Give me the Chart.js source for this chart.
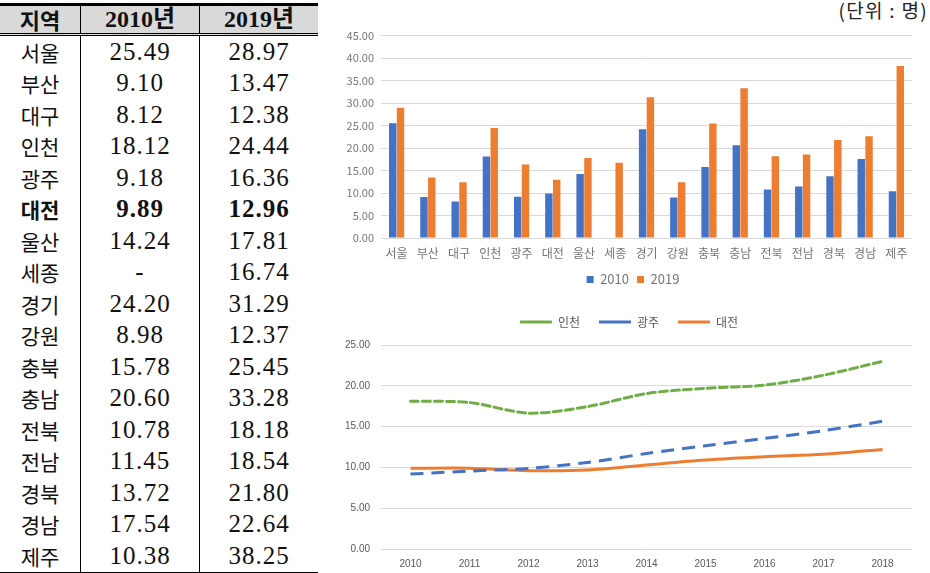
<!DOCTYPE html>
<html>
<head>
<meta charset="utf-8">
<script src="https://cdn.jsdelivr.net/npm/chart.js@4.4.1/dist/chart.umd.min.js"></script>
<style>
  body { margin: 0; width: 930px; height: 573px; background: #fff; position: relative; overflow: hidden; }
  #tbl { position: absolute; left: 0; top: 3px; width: 318px; border-collapse: collapse; table-layout: fixed;
         font-family: "Liberation Serif", "Noto Sans CJK KR", serif; color: #111; }
  #tbl th { background: #d9d9d9; height: 27px; padding: 0; font-size: 24px; font-weight: bold;
            border-top: 3px solid #000; border-bottom: 3px double #000; line-height: 27px; }
  #tbl td { height: 31.5px; padding: 0; text-align: center; font-size: 25px; letter-spacing: 1px; line-height: 30px; }
  #tbl tbody tr:last-child td { border-bottom: 3px solid #000; }
  #tbl th + th, #tbl td + td { border-left: 1px solid #000; }
  #tbl .rg { font-family: "Noto Sans CJK KR", sans-serif; font-size: 21px; letter-spacing: 0; }
  #tbl th.rg { font-size: 22px; }
  #tbl tr.hl td { font-weight: bold; }
  #unit { position: absolute; right: 2px; top: -4px; font-family: "Noto Sans CJK KR", sans-serif; font-size: 19px;
          letter-spacing: 1.3px; color: #222; white-space: pre; }
  #barWrap { position: absolute; left: 332px; top: 22px; }
  #lineWrap { position: absolute; left: 332px; top: 297px; }
</style>
</head>
<body>
<table id="tbl">
  <thead><tr><th class="rg" style="width:80px">지역</th><th style="width:118px">2010년</th><th>2019년</th></tr></thead>
  <tbody id="tb"></tbody>
</table>
<div id="unit">(단위 : 명)</div>
<div id="barWrap"><canvas id="bar" width="598" height="274"></canvas></div>
<div id="lineWrap"><canvas id="line" width="598" height="276"></canvas></div>
<script>
const regions = ['서울', '부산', '대구', '인천', '광주', '대전', '울산', '세종', '경기', '강원', '충북', '충남', '전북', '전남', '경북', '경남', '제주'];
const values2010 = [25.49, 9.10, 8.12, 18.12, 9.18, 9.89, 14.24, null, 24.20, 8.98, 15.78, 20.60, 10.78, 11.45, 13.72, 17.54, 10.38];
const values2019 = [28.97, 13.47, 12.38, 24.44, 16.36, 12.96, 17.81, 16.74, 31.29, 12.37, 25.45, 33.28, 18.18, 18.54, 21.80, 22.64, 38.25];

const years = ['2010', '2011', '2012', '2013', '2014', '2015', '2016', '2017', '2018'];
const incheon = [18.12, 17.95, 16.65, 17.45, 19.05, 19.7, 20.08, 21.3, 23.0];
const gwangju = [9.18, 9.55, 9.88, 10.6, 11.7, 12.65, 13.55, 14.5, 15.65];
const daejeon = [9.89, 9.9, 9.6, 9.67, 10.3, 10.9, 11.3, 11.6, 12.2];

// table
const tb = document.getElementById('tb');
regions.forEach((r, i) => {
  const tr = document.createElement('tr');
  if (r === '대전') tr.className = 'hl';
  const a = values2010[i] === null ? '-' : values2010[i].toFixed(2);
  tr.innerHTML = `<td class="rg">${r}</td><td>${a}</td><td>${values2019[i].toFixed(2)}</td>`;
  tb.appendChild(tr);
});

const gray = '#595959';
const lightGray = '#767676';
const grid = '#d9d9d9';
const krFont = '"Noto Sans CJK KR", sans-serif';

// legend tweaks: fixed height (optional) and a small horizontal nudge
const legendTweak = (height, shift) => ({
  id: 'legendTweak',
  beforeInit(chart) {
    if (height == null) return;
    const fit = chart.legend.fit;
    chart.legend.fit = function () {
      fit.bind(chart.legend)();
      this.height = height;
    };
  },
  afterLayout(chart) {
    chart.legend.left += shift;
    chart.legend.right += shift;
  },
});

new Chart(document.getElementById('bar'), {
  type: 'bar',
  data: {
    labels: regions,
    datasets: [
      { label: '2010', data: values2010, backgroundColor: '#4472c4' },
      { label: '2019', data: values2019, backgroundColor: '#ed7d31' },
    ],
  },
  options: {
    responsive: false,
    animation: false,
    categoryPercentage: 0.5,
    barPercentage: 0.95,
    layout: { padding: { top: 10, right: 18, left: 0, bottom: 0 } },
    scales: {
      x: {
        grid: { display: false, drawTicks: false },
        border: { display: false },
        ticks: { color: lightGray, font: { family: krFont, size: 12 }, padding: 8, maxRotation: 0, autoSkip: false },
        afterFit: s => { s.height = 27; },
      },
      y: {
        min: 0, max: 45,
        grid: { color: grid, drawTicks: false },
        border: { display: false },
        ticks: { stepSize: 5, color: lightGray, font: { family: krFont, size: 11 }, padding: 7,
                 callback: v => v.toFixed(2) },
        afterFit: s => { s.width = 49; },
      },
    },
    plugins: {
      legend: {
        position: 'bottom',
        labels: { boxWidth: 7, boxHeight: 7, color: lightGray, font: { family: krFont, size: 13 }, padding: 8 },
      },
      tooltip: { enabled: false },
    },
  },
  plugins: [legendTweak(null, 11)],
});

new Chart(document.getElementById('line'), {
  type: 'line',
  data: {
    labels: years,
    datasets: [
      { label: '인천', data: incheon, borderColor: '#70ad47', backgroundColor: '#70ad47', borderWidth: 3,
        borderDash: [8, 4], borderCapStyle: 'round' },
      { label: '광주', data: gwangju, borderColor: '#4472c4', backgroundColor: '#4472c4', borderWidth: 3,
        borderDash: [13, 8] },
      { label: '대전', data: daejeon, borderColor: '#ed7d31', backgroundColor: '#ed7d31', borderWidth: 3 },
    ],
  },
  options: {
    responsive: false,
    animation: false,
    elements: { point: { radius: 0 }, line: { tension: 0.3 } },
    layout: { padding: { top: 0, right: 18, left: 0, bottom: 3 } },
    scales: {
      x: {
        offset: true,
        grid: { display: false, drawTicks: false },
        border: { display: false },
        ticks: { color: gray, font: { size: 10 }, padding: 9 },
        afterFit: s => { s.height = 21; },
      },
      y: {
        min: 0, max: 25,
        grid: { color: grid, drawTicks: false },
        border: { display: false },
        ticks: { stepSize: 5, color: gray, font: { size: 10 }, padding: 11,
                 callback: v => v.toFixed(2) },
        afterFit: s => { s.width = 49; },
      },
    },
    plugins: {
      legend: {
        position: 'top',
        labels: { usePointStyle: true, pointStyle: 'line', pointStyleWidth: 32, color: gray,
                  font: { family: krFont, size: 12 }, padding: 19 },
      },
      tooltip: { enabled: false },
    },
  },
  plugins: [legendTweak(48, 7)],
});
</script>
</body>
</html>
